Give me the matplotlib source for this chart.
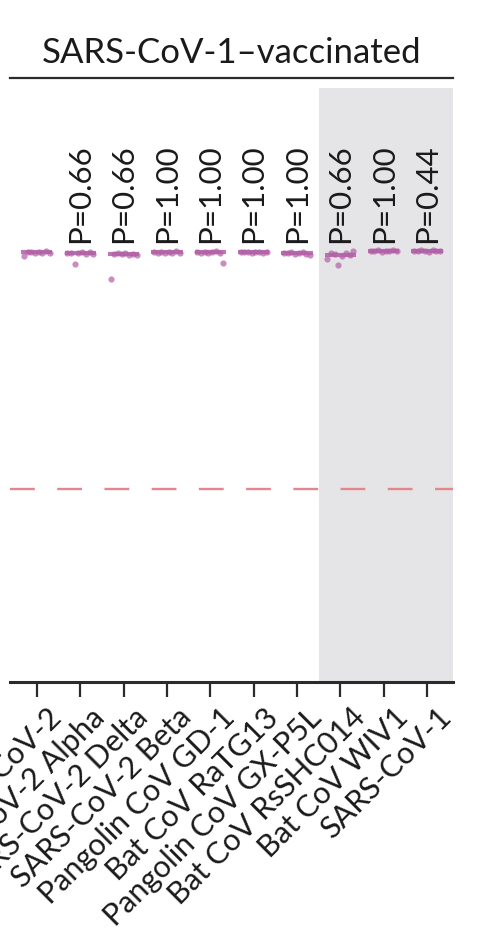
import matplotlib.pyplot as plt
import numpy as np
from matplotlib.lines import Line2D
from matplotlib.transforms import ScaledTranslation

plt.rcParams['font.family'] = ['Lato', 'DejaVu Sans']

# Viruses tested (x axis)
viruses = ['SARS-CoV-2', 'SARS-CoV-2 Alpha', 'SARS-CoV-2 Delta', 'SARS-CoV-2 Beta',
           'Pangolin CoV GD-1', 'Bat CoV RaTG13', 'Pangolin CoV GX-P5L',
           'Bat CoV RsSHC014', 'Bat CoV WIV1', 'SARS-CoV-1']

# % inhibition per serum sample (8 vaccinated SARS-CoV-1 survivors)
inh_cov2 = [95.0, 96.3, 96.1, 96.0, 96.2, 95.9, 96.4, 96.0]
inh_alpha = [95.8, 96.0, 92.7, 95.9, 96.1, 95.7, 96.2, 95.6]
inh_delta = [88.5, 95.5, 95.8, 95.6, 95.9, 95.3, 95.7, 95.2]
inh_beta = [96.1, 96.0, 96.3, 95.9, 96.2, 95.8, 96.4, 96.0]
inh_gd1 = [96.2, 96.0, 96.3, 95.9, 96.1, 96.4, 95.8, 93.2]
inh_ratg13 = [96.2, 96.1, 96.3, 96.0, 96.2, 96.1, 95.9, 96.3]
inh_gxp5l = [96.0, 95.8, 96.1, 95.6, 95.9, 96.2, 95.7, 95.3]
inh_rsshc014 = [94.3, 95.9, 95.5, 92.4, 95.1, 95.8, 95.4, 96.4]
inh_wiv1 = [96.5, 96.4, 96.6, 96.3, 96.5, 96.4, 96.7, 96.5]
inh_sars1 = [96.5, 96.4, 96.6, 96.5, 96.3, 96.6, 96.4, 96.5]
all_inh = [inh_cov2, inh_alpha, inh_delta, inh_beta, inh_gd1, inh_ratg13,
           inh_gxp5l, inh_rsshc014, inh_wiv1, inh_sars1]

p_values = ['', 'P=0.66', 'P=0.66', 'P=1.00', 'P=1.00', 'P=1.00', 'P=1.00',
            'P=0.66', 'P=1.00', 'P=0.44']
cutoff = 30

purple = '#b25fa6'
dark = '#2b2b2b'

fig = plt.figure(figsize=(4.8, 9.34), dpi=100, facecolor='white')
ax = fig.add_axes([10/480, 1 - 682/934, 443/480, 594/934])
ax.set_xlim(-0.62, 9.6)
ax.set_ylim(-24, 142)

# shaded group (non-SARS-CoV-2 clade)
ax.axvspan(6.5, 9.6, color='#e5e5e7', zorder=0, lw=0)

# cutoff line
ax.axhline(cutoff, color='#e5868f', lw=1.7, dashes=(10.5, 9.5), zorder=1)

for i, vals in enumerate(all_inh):
    vals = np.array(vals)
    offs = np.linspace(-0.3, 0.3, len(vals))
    ax.scatter(i + offs, vals, s=20, color=purple, alpha=0.7, lw=0, zorder=3)
    med = np.median(vals)
    ax.hlines(med, i - 0.36, i + 0.36, color=purple, lw=3.0, alpha=0.85, zorder=4)
    if p_values[i]:
        ax.text(i, 98.6, p_values[i], rotation=90, ha='center', va='bottom',
                fontsize=22.5, color='#1a1a1a')

# axes styling
for side in ['left', 'right', 'top']:
    ax.spines[side].set_visible(False)
ax.spines['bottom'].set_color(dark)
ax.spines['bottom'].set_linewidth(2.2)
ax.set_yticks([])
ax.set_xticks(range(len(viruses)))
ax.set_xticklabels(viruses, rotation=45, ha='right', va='center',
                   rotation_mode='anchor', fontsize=22, color='#1a1a1a')
ax.tick_params(axis='x', length=11, width=1.6, color=dark, pad=2)
shift = ScaledTranslation(0.2, -0.13, fig.dpi_scale_trans)
for lab in ax.get_xticklabels():
    lab.set_transform(lab.get_transform() + shift)

# panel title with underline
fig.text(232/480, 1 - 63/934, 'SARS-CoV-1\u2013vaccinated', ha='center',
         va='baseline', fontsize=25, color='#1a1a1a')
fig.add_artist(Line2D([10/480, 453/480], [1 - 78/934, 1 - 78/934],
                      color=dark, lw=1.6, transform=fig.transFigure))

fig.savefig('out.png', dpi=100, facecolor='white')
